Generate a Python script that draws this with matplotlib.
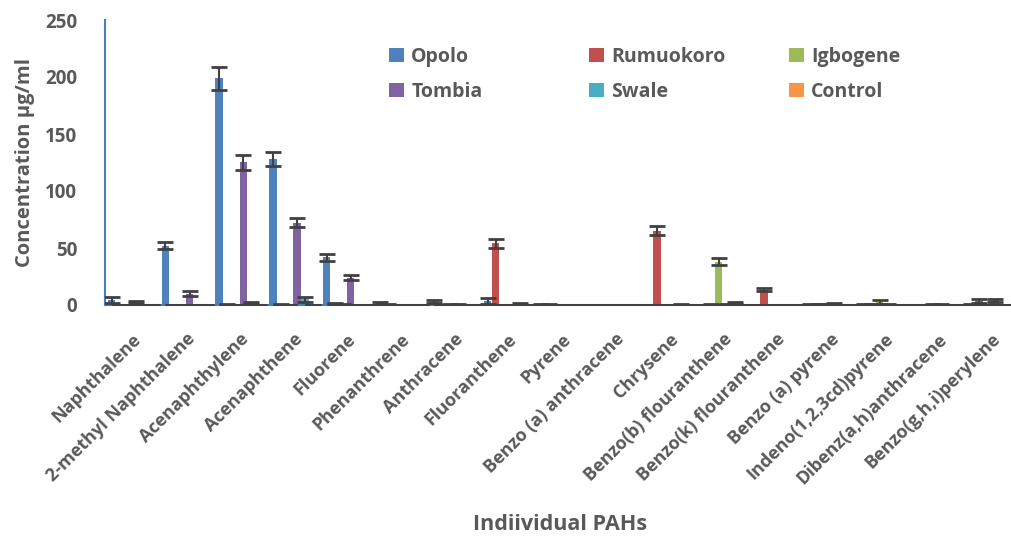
import numpy as np
import matplotlib.pyplot as plt

pahs = ["Naphthalene", "2-methyl Naphthalene", "Acenaphthylene", "Acenaphthene",
        "Fluorene", "Phenanthrene", "Anthracene", "Fluoranthene", "Pyrene",
        "Benzo (a) anthracene", "Chrysene", "Benzo(b) flouranthene",
        "Benzo(k) flouranthene", "Benzo (a) pyrene", "Indeno(1,2,3cd)pyrene",
        "Dibenz(a,h)anthracene", "Benzo(g,h,i)perylene"]

sites = ["Opolo", "Rumuokoro", "Igbogene", "Tombia", "Swale", "Control"]

opolo = [4.5, 52, 199, 128, 42, 1.5, 3, 3.5, 0.2, 0.2, 0.2, 0.2, 0.2, 0.5, 0.3, 0.2, 0.3]
opolo_err = [2.5, 3, 10, 6, 3, 1.5, 1.5, 2.5, 0.3, 0.2, 0.2, 0.2, 0.2, 0.4, 0.3, 0.2, 0.3]
rumuokoro = [0.2, 0.2, 0.3, 0.3, 1, 0.5, 0.2, 54, 0.3, 0.2, 65, 0.3, 13.5, 0.3, 0.3, 0.2, 3.5]
rumuokoro_err = [0.2, 0.2, 0.3, 0.3, 0.5, 0.4, 0.2, 4, 0.3, 0.2, 4, 0.3, 1.5, 0.3, 0.3, 0.2, 1.5]
igbogene = [0.2, 0.2, 0.2, 0.2, 0.5, 0.2, 0.3, 0.2, 0.2, 0.2, 0.2, 38, 0.2, 0.5, 2.5, 0.3, 0.2]
igbogene_err = [0.2, 0.2, 0.2, 0.2, 0.4, 0.2, 0.3, 0.2, 0.2, 0.2, 0.2, 3, 0.2, 0.4, 1.5, 0.3, 0.2]
tombia = [2.5, 10, 125, 72, 24, 0.2, 0.5, 0.2, 0.2, 0.2, 0.2, 0.3, 0.2, 1, 0.3, 0.5, 4]
tombia_err = [1, 2, 7, 4, 2, 0.2, 0.4, 0.2, 0.2, 0.2, 0.2, 0.3, 0.2, 0.6, 0.3, 0.4, 1.5]
swale = [0.2, 0.2, 1.5, 5, 0.2, 0.2, 0.2, 1, 0.2, 0.2, 0.5, 1.5, 0.2, 0.2, 0.2, 0.2, 0.2]
swale_err = [0.2, 0.2, 1, 2, 0.2, 0.2, 0.2, 0.8, 0.2, 0.2, 0.4, 1, 0.2, 0.2, 0.2, 0.2, 0.2]
control = [0.1] * 17
control_err = [0.1] * 17

colors = ["#4F81BD", "#C0504D", "#9BBB59", "#8064A2", "#4BACC6", "#F79646"]
series = [(opolo, opolo_err), (rumuokoro, rumuokoro_err), (igbogene, igbogene_err),
          (tombia, tombia_err), (swale, swale_err), (control, control_err)]

txt = "#595959"
plt.rcParams['font.family'] = ['Open Sans', 'DejaVu Sans']
plt.rcParams['font.weight'] = 'bold'

fig = plt.figure(figsize=(10.12, 5.43), dpi=100)
ax = fig.add_axes([105 / 1012, (543 - 305) / 543, 913 / 1012, 285 / 543])

x = np.arange(len(pahs))
step = 0.15
width = 0.14
handles = []
for k, (name, (vals, errs)) in enumerate(zip(sites, series)):
    pos = x + (k - 2.5) * step
    h = ax.bar(pos, vals, width, color=colors[k], label=name, zorder=2)
    handles.append(h)
    ax.errorbar(pos, vals, yerr=errs, fmt="none", ecolor="#404040",
                elinewidth=1.5, capsize=6, capthick=2, zorder=3)

ax.set_xlim(-0.5, len(pahs) - 0.5)
ax.set_ylim(0, 250)
ax.set_yticks([0, 50, 100, 150, 200, 250])
for s in ["top", "right"]:
    ax.spines[s].set_visible(False)
for s in ["left", "bottom"]:
    ax.spines[s].set_color("#4A7EBB")
    ax.spines[s].set_linewidth(1.5)
ax.tick_params(axis="both", length=0, colors=txt)
ax.tick_params(axis="y", labelsize=13.5, pad=20)
for t in ax.get_yticklabels():
    t.set_fontweight("bold")
ax.set_xticks(x)
ax.set_xticklabels(pahs, rotation=45, ha="right", rotation_mode="anchor",
                   fontsize=13, color=txt, fontweight="bold")
ax.tick_params(axis="x", pad=18)

ax.set_ylabel("Concentration µg/ml", fontsize=14.5, color=txt,
              fontweight="bold", labelpad=7)
fig.text(560 / 1012, 1 - 525 / 543, "Indiividual PAHs", fontsize=15.5,
         color=txt, ha="center", va="center", fontweight="bold")

# one legend per column so each row reads left to right
col_left = [389, 589, 789]
for c in range(3):
    leg = fig.legend([handles[c], handles[c + 3]], [sites[c], sites[c + 3]],
                     loc="upper left", bbox_to_anchor=(col_left[c] / 1012, 1 - 47 / 543),
                     frameon=False, fontsize=14, handlelength=0.75, handleheight=0.75,
                     handletextpad=0.4, labelspacing=0.75, borderpad=0,
                     borderaxespad=0)
    for t in leg.get_texts():
        t.set_color(txt)
        t.set_fontweight("bold")

fig.savefig("out.png", dpi=100)
